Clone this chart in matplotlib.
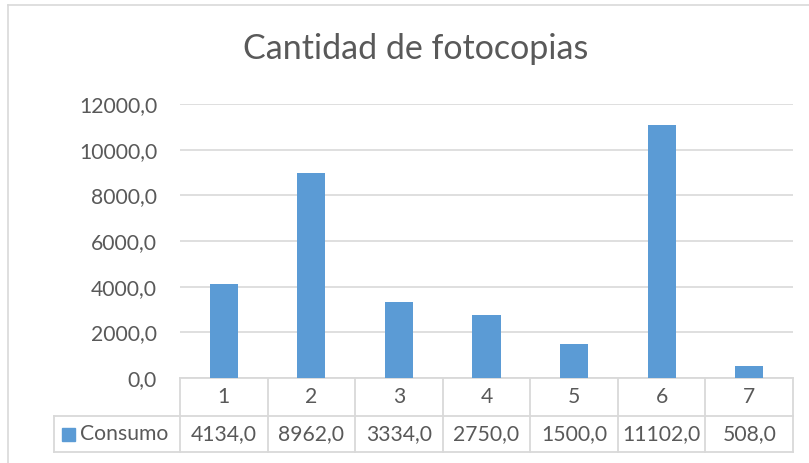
import matplotlib
matplotlib.use("Agg")
import matplotlib.pyplot as plt
from matplotlib.transforms import blended_transform_factory
from matplotlib.lines import Line2D
from matplotlib.patches import Rectangle

plt.rcParams['font.family'] = ['Lato', 'DejaVu Sans']

title = "Cantidad de fotocopias"
series_name = "Consumo"
categories = ["1", "2", "3", "4", "5", "6", "7"]
values = [4134.0, 8962.0, 3334.0, 2750.0, 1500.0, 11102.0, 508.0]
y_ticks = [0, 2000, 4000, 6000, 8000, 10000, 12000]

W, H = 809, 463
TXT = "#595959"
GRID = "#d9d9d9"
BAR = "#5b9bd5"
FS = 15.2

fig = plt.figure(figsize=(W / 100, H / 100), dpi=100)
fig.patch.set_facecolor("white")

def fx(px):
    return px / W

def fy(py):
    return 1 - py / H

# outer chart border
fig.add_artist(Line2D([fx(8), fx(W + 5)], [fy(5), fy(5)], color=GRID, lw=1.2))
fig.add_artist(Line2D([fx(8), fx(8)], [fy(5), fy(H + 5)], color=GRID, lw=1.2))

L, R, T, B = 180, 793, 104, 378
ax = fig.add_axes([fx(L), fy(B), (R - L) / W, (B - T) / H])
ax.set_facecolor("none")

n = len(categories)
xs = [i + 0.5 for i in range(n)]
ax.bar(xs, values, width=0.32, color=BAR, zorder=3)
ax.set_xlim(0, n)
ax.set_ylim(0, 12000)
ax.set_yticks(y_ticks)
ax.set_yticklabels([f"{v:.1f}".replace(".", ",") for v in y_ticks],
                   fontsize=FS, color=TXT)
ax.tick_params(axis="y", length=0, pad=16.5)
ax.set_xticks([])
for s in ax.spines.values():
    s.set_visible(False)
ax.yaxis.grid(True, color=GRID, lw=1.2, zorder=0)
ax.set_axisbelow(True)

# data table
tr = blended_transform_factory(ax.transData, ax.transAxes)
ah = B - T
r0 = 0.0
r1 = -(415.5 - B) / ah
r2 = -(452 - B) / ah
lw = 1.3
ax.add_line(Line2D([0, n], [r0, r0], transform=tr, color=GRID, lw=lw, clip_on=False))
fig.add_artist(Line2D([fx(54), fx(R)], [fy(415.5), fy(415.5)], color=GRID, lw=lw))
fig.add_artist(Line2D([fx(54), fx(R)], [fy(452), fy(452)], color=GRID, lw=lw))
fig.add_artist(Line2D([fx(54), fx(54)], [fy(415.5), fy(452)], color=GRID, lw=lw))
for i in range(n + 1):
    ax.add_line(Line2D([i, i], [r0, r2], transform=tr, color=GRID, lw=lw, clip_on=False))
for i, (c, v) in enumerate(zip(categories, values)):
    ax.text(i + 0.5, (r0 + r1) / 2, c, transform=tr, ha="center", va="center",
            fontsize=FS, color=TXT)
    ax.text(i + 0.5, (r1 + r2) / 2, f"{v:.1f}".replace(".", ","), transform=tr,
            ha="center", va="center", fontsize=FS, color=TXT)

# legend key in table
fig.add_artist(Rectangle((fx(62), fy(440.5)), fx(13), 13 / H, color=BAR))
fig.text(fx(80), fy(434), series_name, ha="left", va="center", fontsize=FS, color=TXT)

fig.text(fx(416), fy(49), title, ha="center", va="center", fontsize=24.5, color=TXT)

fig.savefig("out.png", dpi=100, facecolor="white")
